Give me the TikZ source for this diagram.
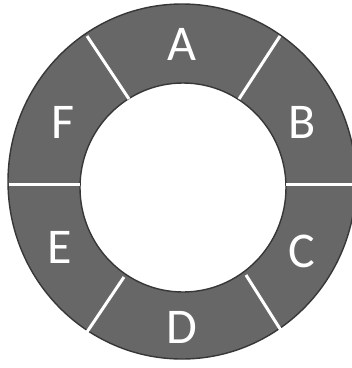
\documentclass[tikz,border=0pt]{standalone}
\usepackage{fontspec}
\setmainfont{Carlito}
\usetikzlibrary{calc}
\definecolor{ringgray}{RGB}{103,103,103}
\definecolor{ringedge}{RGB}{55,55,55}

\begin{document}
\begin{tikzpicture}[x=1pt,y=-1pt,
  cut/.style={white,line width=3pt},
  seglabel/.style={text=white,font=\fontsize{50}{50}\selectfont,inner sep=0pt}]
\useasboundingbox (0,0) rectangle (352,368);
\clip (0,0) rectangle (352,368);
\fill[white] (0,0) rectangle (352,368);
% ring
\filldraw[fill=ringgray,draw=ringedge,line width=1.4pt,even odd rule]
  (182,181.5) ellipse [x radius=174pt,y radius=177.5pt]
  (183,187.5) ellipse [x radius=103pt,y radius=104.5pt];
% cuts between segments
\coordinate (AFin) at (129,99);  \coordinate (AFout) at (87,36);
\coordinate (ABin) at (239,99);  \coordinate (ABout) at (280,36);
\coordinate (EDin) at (124,277); \coordinate (EDout) at (87,332);
\coordinate (CDin) at (246,275); \coordinate (CDout) at (282,332);
\coordinate (EFin) at (80,184);  \coordinate (EFout) at (9,184);
\coordinate (BCin) at (286,184); \coordinate (BCout) at (352,184);
\draw[cut] (AFin)--(AFout); \draw[cut] (ABin)--(ABout);
\draw[cut] (EDin)--(EDout); \draw[cut] (CDin)--(CDout);
\draw[cut] (EFin)--(EFout); \draw[cut] (BCin)--(BCout);
% labels
\node[seglabel] (A) at (182,44) {A};
\node[seglabel] (B) at (302,122) {B};
\node[seglabel] (C) at (302,251) {C};
\node[seglabel] (D) at (182,327) {D};
\node[seglabel] (E) at (60,247) {E};
\node[seglabel] (F) at (63,122) {F};
\end{tikzpicture}
\end{document}
